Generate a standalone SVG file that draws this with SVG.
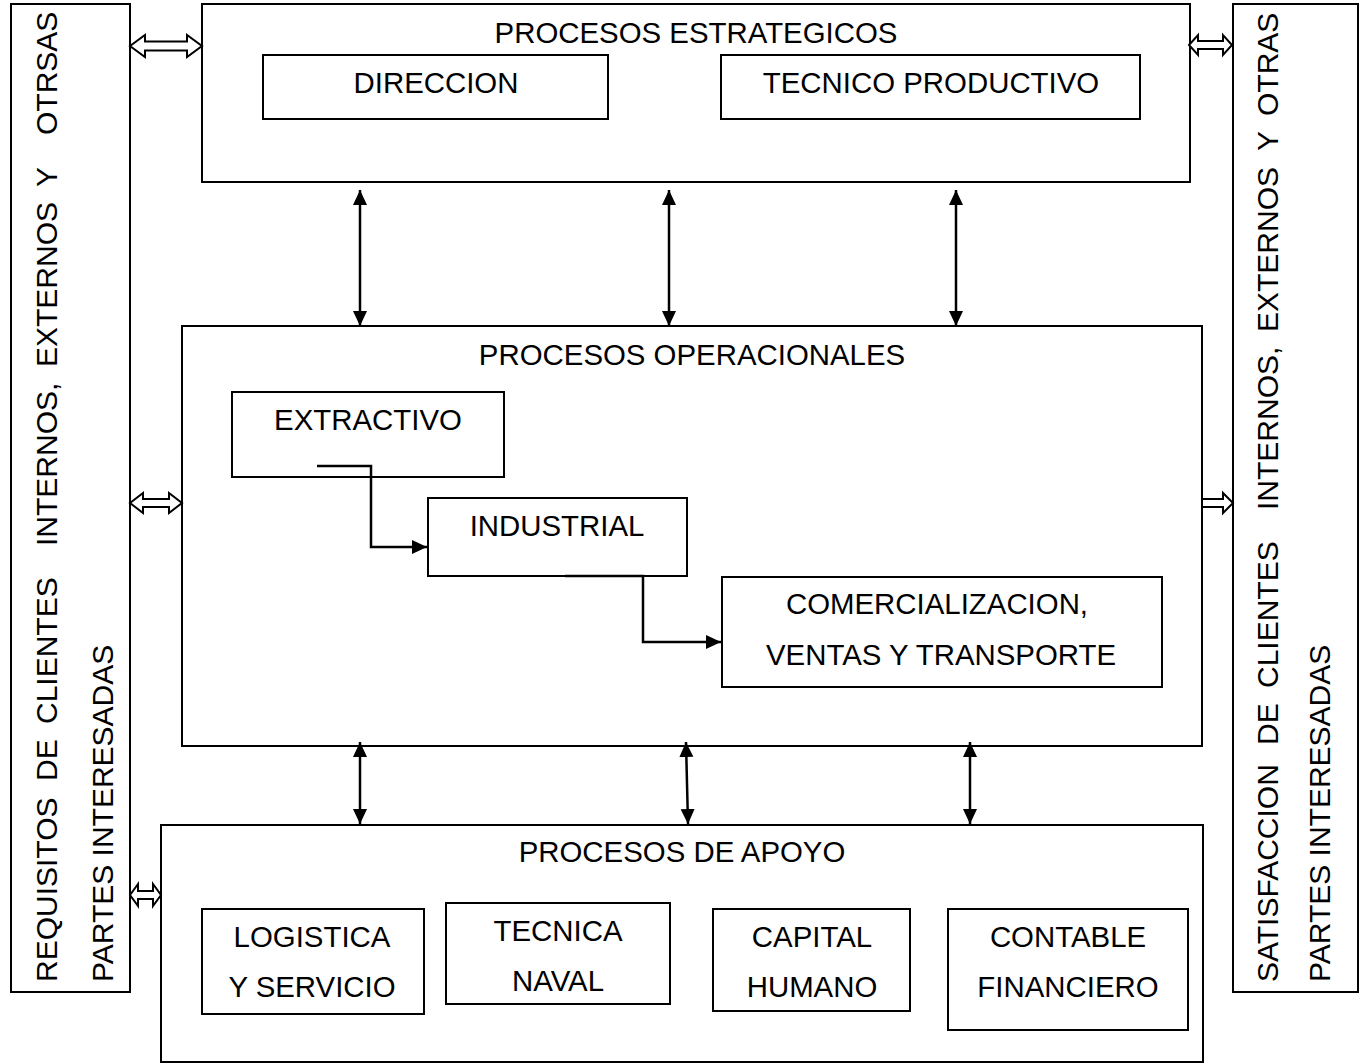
<svg xmlns="http://www.w3.org/2000/svg" width="1364" height="1064" viewBox="0 0 1364 1064">
<defs>
<marker id="ah" markerUnits="userSpaceOnUse" markerWidth="16" markerHeight="16" refX="15" refY="7" orient="auto-start-reverse">
<path d="M0,0 L15,7 L0,14 z" fill="#000"/>
</marker>
</defs>
<style>
.box{fill:#fff;stroke:#000;stroke-width:2}
.t{font-family:"Liberation Sans",Arial,sans-serif;font-size:29.4px;fill:#000}
.c{text-anchor:middle}
.v{font-family:"Liberation Sans",Arial,sans-serif;font-size:30px;fill:#000}
.ln{fill:none;stroke:#000;stroke-width:2.5}
.hol{fill:#fff;stroke:#000;stroke-width:2;stroke-linejoin:miter}
</style>
<rect width="1364" height="1064" fill="#fff"/>

<g id="requisitos">
<rect class="box" x="11" y="4" width="119" height="988"/>
<text class="v" transform="translate(57,982) rotate(-90)"><tspan x="0">REQUISITOS</tspan><tspan x="201">DE</tspan><tspan x="258">CLIENTES</tspan><tspan x="436">INTERNOS,</tspan><tspan x="615">EXTERNOS</tspan><tspan x="795">Y</tspan><tspan x="847">OTRSAS</tspan></text>
<text class="v" transform="translate(113,982) rotate(-90)">PARTES INTERESADAS</text>
</g>

<g id="satisfaccion">
<rect class="box" x="1233" y="4" width="125" height="988"/>
<text class="v" transform="translate(1278,982) rotate(-90)"><tspan x="0">SATISFACCION</tspan><tspan x="237">DE</tspan><tspan x="294">CLIENTES</tspan><tspan x="472">INTERNOS,</tspan><tspan x="650">EXTERNOS</tspan><tspan x="831">Y</tspan><tspan x="866">OTRAS</tspan></text>
<text class="v" transform="translate(1330,982) rotate(-90)">PARTES INTERESADAS</text>
</g>

<g id="estrategicos">
<rect class="box" x="202" y="4" width="988" height="178"/>
<text class="t c" x="696" y="43">PROCESOS ESTRATEGICOS</text>
</g>
<g id="direccion">
<rect class="box" x="263" y="55" width="345" height="64"/>
<text class="t c" x="436" y="93">DIRECCION</text>
</g>
<g id="tecnico">
<rect class="box" x="721" y="55" width="419" height="64"/>
<text class="t c" x="931" y="93">TECNICO PRODUCTIVO</text>
</g>

<g id="operacionales">
<rect class="box" x="182" y="326" width="1020" height="420"/>
<text class="t c" x="692" y="365">PROCESOS OPERACIONALES</text>
</g>
<g id="extractivo">
<rect class="box" x="232" y="392" width="272" height="85"/>
<text class="t c" x="368" y="430">EXTRACTIVO</text>
</g>
<g id="industrial">
<rect class="box" x="428" y="498" width="259" height="78"/>
<text class="t c" x="557" y="536">INDUSTRIAL</text>
</g>
<g id="comercializacion">
<rect class="box" x="722" y="577" width="440" height="110"/>
<text class="t c" x="937" y="614">COMERCIALIZACION,</text>
<text class="t c" x="941" y="665">VENTAS Y TRANSPORTE</text>
</g>

<g id="apoyo">
<rect class="box" x="161" y="825" width="1042" height="237"/>
<text class="t c" x="682" y="862">PROCESOS DE APOYO</text>
</g>
<g id="logistica">
<rect class="box" x="202" y="909" width="222" height="105"/>
<text class="t c" x="312" y="947">LOGISTICA</text>
<text class="t c" x="312" y="997">Y SERVICIO</text>
</g>
<g id="tecnica">
<rect class="box" x="446" y="903" width="224" height="101"/>
<text class="t c" x="558" y="941">TECNICA</text>
<text class="t c" x="558" y="991">NAVAL</text>
</g>
<g id="capital">
<rect class="box" x="713" y="909" width="197" height="102"/>
<text class="t c" x="812" y="947">CAPITAL</text>
<text class="t c" x="812" y="997">HUMANO</text>
</g>
<g id="contable">
<rect class="box" x="948" y="909" width="240" height="121"/>
<text class="t c" x="1068" y="947">CONTABLE</text>
<text class="t c" x="1068" y="997">FINANCIERO</text>
</g>

<g id="connectors">
<line class="ln" x1="360" y1="190" x2="360" y2="326" marker-start="url(#ah)" marker-end="url(#ah)"/>
<line class="ln" x1="669" y1="190" x2="669" y2="326" marker-start="url(#ah)" marker-end="url(#ah)"/>
<line class="ln" x1="956" y1="190" x2="956" y2="326" marker-start="url(#ah)" marker-end="url(#ah)"/>
<line class="ln" x1="360" y1="742" x2="360" y2="824" marker-start="url(#ah)" marker-end="url(#ah)"/>
<line class="ln" x1="686" y1="742" x2="688" y2="824" marker-start="url(#ah)" marker-end="url(#ah)"/>
<line class="ln" x1="970" y1="742" x2="970" y2="824" marker-start="url(#ah)" marker-end="url(#ah)"/>
<polyline class="ln" points="317,466 371,466 371,547 427,547" marker-end="url(#ah)"/>
<polyline class="ln" points="565,576 643,576 643,642 721,642" marker-end="url(#ah)"/>
<path class="hol" d="M130,46 L145,35 L145,41.5 L187,41.5 L187,35 L202,46 L187,57 L187,50.5 L145,50.5 L145,57 Z"/>
<path class="hol" d="M1189,45 L1198,35 L1198,41 L1223,41 L1223,35 L1232,45 L1223,55 L1223,49 L1198,49 L1198,55 Z"/>
<path class="hol" d="M130,503 L143,493 L143,499 L169,499 L169,493 L182,503 L169,513 L169,507 L143,507 L143,513 Z"/>
<path class="hol" d="M1202,499 L1223,499 L1223,493 L1233,503 L1223,513 L1223,507 L1202,507 Z"/>
<path class="hol" d="M130,895 L138,884 L138,891 L153,891 L153,884 L161,895 L153,906 L153,899 L138,899 L138,906 Z"/>
</g>
</svg>
